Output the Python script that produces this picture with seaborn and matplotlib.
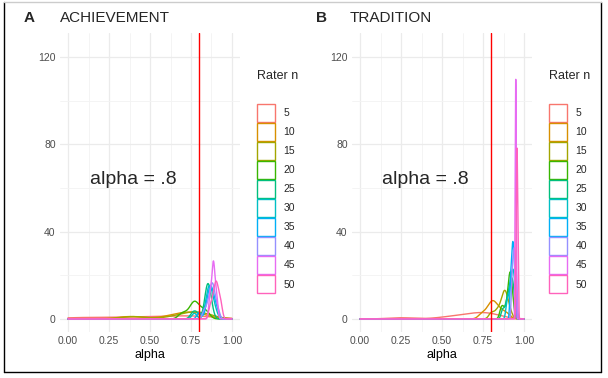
import matplotlib
matplotlib.use("Agg")
import matplotlib.pyplot as plt
from matplotlib.patches import Patch
from matplotlib.lines import Line2D
import seaborn as sns
import pandas as pd

# Rater group sizes and ggplot-style hue colours
rater_n = [5, 10, 15, 20, 25, 30, 35, 40, 45, 50]
colors = ["#F8766D", "#D89000", "#A3A500", "#39B600", "#00BF7D",
          "#00BFC4", "#00B0F6", "#9590FF", "#E76BF3", "#FF62BC"]

# Estimated alpha values (ACHIEVEMENT)
ach_5 = [0.02, 0.15, 0.30, 0.42, 0.52, 0.60, 0.68, 0.75, 0.80, 0.84]
ach_10 = [0.36, 0.40, 0.60, 0.66, 0.70, 0.72, 0.74, 0.77, 0.80, 0.83]
ach_15 = [0.38, 0.42, 0.64, 0.70, 0.73, 0.76, 0.78, 0.80, 0.83, 0.85]
ach_20 = [0.69, 0.72, 0.75, 0.76, 0.77, 0.78, 0.79, 0.81, 0.83, 0.85]
ach_25 = [0.76, 0.785, 0.838, 0.844, 0.849, 0.852, 0.855, 0.859, 0.865, 0.875]
ach_30 = [0.77, 0.84, 0.85, 0.855, 0.86, 0.865, 0.87, 0.875, 0.885, 0.90]
ach_35 = [0.80, 0.845, 0.855, 0.862, 0.868, 0.872, 0.878, 0.885, 0.895, 0.91]
ach_40 = [0.83, 0.85, 0.86, 0.87, 0.875, 0.88, 0.885, 0.89, 0.90, 0.915]
ach_45 = [0.862, 0.870, 0.877, 0.882, 0.885, 0.888, 0.891, 0.896, 0.902, 0.910]
ach_50 = [0.865, 0.878, 0.888, 0.895, 0.90, 0.905, 0.91, 0.917, 0.925, 0.935]

# Estimated alpha values (TRADITION)
tra_5 = [0.25, 0.52, 0.60, 0.65, 0.69, 0.72, 0.75, 0.78, 0.80, 0.83]
tra_10 = [0.74, 0.77, 0.79, 0.80, 0.81, 0.82, 0.83, 0.85, 0.87, 0.90]
tra_15 = [0.80, 0.83, 0.85, 0.865, 0.875, 0.88, 0.885, 0.89, 0.90, 0.915]
tra_20 = [0.86, 0.875, 0.895, 0.905, 0.910, 0.914, 0.917, 0.92, 0.924, 0.932]
tra_25 = [0.87, 0.89, 0.90, 0.91, 0.915, 0.92, 0.925, 0.93, 0.935, 0.94]
tra_30 = [0.895, 0.905, 0.915, 0.92, 0.925, 0.93, 0.933, 0.937, 0.942, 0.948]
tra_35 = [0.916, 0.920, 0.9245, 0.928, 0.9305, 0.933, 0.9355, 0.939, 0.9425, 0.9475]
tra_40 = [0.925, 0.929, 0.933, 0.936, 0.939, 0.942, 0.945, 0.948, 0.952, 0.957]
tra_45 = [0.9445, 0.9461, 0.9472, 0.9483, 0.9491, 0.950, 0.9509, 0.9518, 0.9528, 0.9545]
tra_50 = [0.951, 0.953, 0.955, 0.9567, 0.9575, 0.9583, 0.960, 0.9617, 0.9635, 0.9662]

ach_groups = [ach_5, ach_10, ach_15, ach_20, ach_25, ach_30, ach_35, ach_40, ach_45, ach_50]
tra_groups = [tra_5, tra_10, tra_15, tra_20, tra_25, tra_30, tra_35, tra_40, tra_45, tra_50]

x_ticks = [0.0, 0.25, 0.5, 0.75, 1.0]
x_labels = ["0.00", "0.25", "0.50", "0.75", "1.00"]
y_ticks = [0, 40, 80, 120]

sns.set_theme(style="white")
plt.rcParams["font.family"] = ["Liberation Sans", "DejaVu Sans"]

W, H = 608, 378
fig = plt.figure(figsize=(W / 100, H / 100), dpi=100)


def px_axes(left, top, right, bottom):
    return fig.add_axes([left / W, 1 - bottom / H, (right - left) / W, (bottom - top) / H])


def draw_panel(ax, groups, letter, title, lx, tx, legx):
    for n, vals, col in zip(rater_n, groups, colors):
        df = pd.DataFrame({"alpha": vals})
        sns.kdeplot(data=df, x="alpha", ax=ax, color=col, linewidth=1.0,
                    bw_adjust=0.7, cut=3000, clip=(0, 1), gridsize=4000)
    ax.axvline(0.8, color="#FF0000", linewidth=1.0)
    ax.set_xlim(-0.05, 1.05)
    ax.set_ylim(-6, 131)
    ax.set_xticks(x_ticks)
    ax.set_xticklabels(x_labels)
    ax.set_xticks([0.125, 0.375, 0.625, 0.875], minor=True)
    ax.set_yticks(y_ticks)
    ax.set_yticks([20, 60, 100], minor=True)
    ax.grid(which="major", color="#EBEBEB", linewidth=0.9)
    ax.grid(which="minor", color="#F3F3F3", linewidth=0.6)
    ax.set_axisbelow(True)
    for s in ax.spines.values():
        s.set_visible(False)
    ax.tick_params(which="both", length=0, labelsize=7.5, labelcolor="#4D4D4D", pad=3)
    ax.set_xlabel("alpha", fontsize=9, color="black", labelpad=2)
    ax.set_ylabel("")
    ax.text(0.396, 64, "alpha = .8", fontsize=14, ha="center", va="center")
    fig.text(lx / W, 1 - 18 / H, letter, fontsize=11, fontweight="bold", va="center")
    fig.text(tx / W, 1 - 18 / H, title, fontsize=11, va="center")
    handles = [Patch(facecolor="white", edgecolor=c, linewidth=1.0) for c in colors]
    fig.text(legx / W, 1 - 76 / H, "Rater n", fontsize=9, va="center")
    leg = fig.legend(handles, [str(n) for n in rater_n], loc="upper left",
                     bbox_to_anchor=(legx / W, 1 - 104 / H), frameon=False,
                     fontsize=7.5, handlelength=1.73, handleheight=2.28,
                     labelspacing=0.1, handletextpad=0.8, borderpad=0, borderaxespad=0)
    return leg


ax1 = px_axes(59.8, 33, 240.2, 332)
draw_panel(ax1, ach_groups, "A", "ACHIEVEMENT", 24, 60, 257)
ax2 = px_axes(351.8, 33, 532.2, 332)
draw_panel(ax2, tra_groups, "B", "TRADITION", 316, 350, 549)

# outer frame
fig.add_artist(Line2D([4 / W, 4 / W], [1 - 2 / H, 1 - 372 / H], color="black", linewidth=1))
fig.add_artist(Line2D([4 / W, 601 / W], [1 - 372 / H, 1 - 372 / H], color="black", linewidth=1))
fig.add_artist(Line2D([601 / W, 601 / W], [1 - 2 / H, 1 - 372 / H], color="black", linewidth=1))
fig.add_artist(Line2D([4 / W, 601 / W], [1 - 2 / H, 1 - 2 / H], color="#CCCCCC", linewidth=1))

fig.savefig("out.png", dpi=100)
